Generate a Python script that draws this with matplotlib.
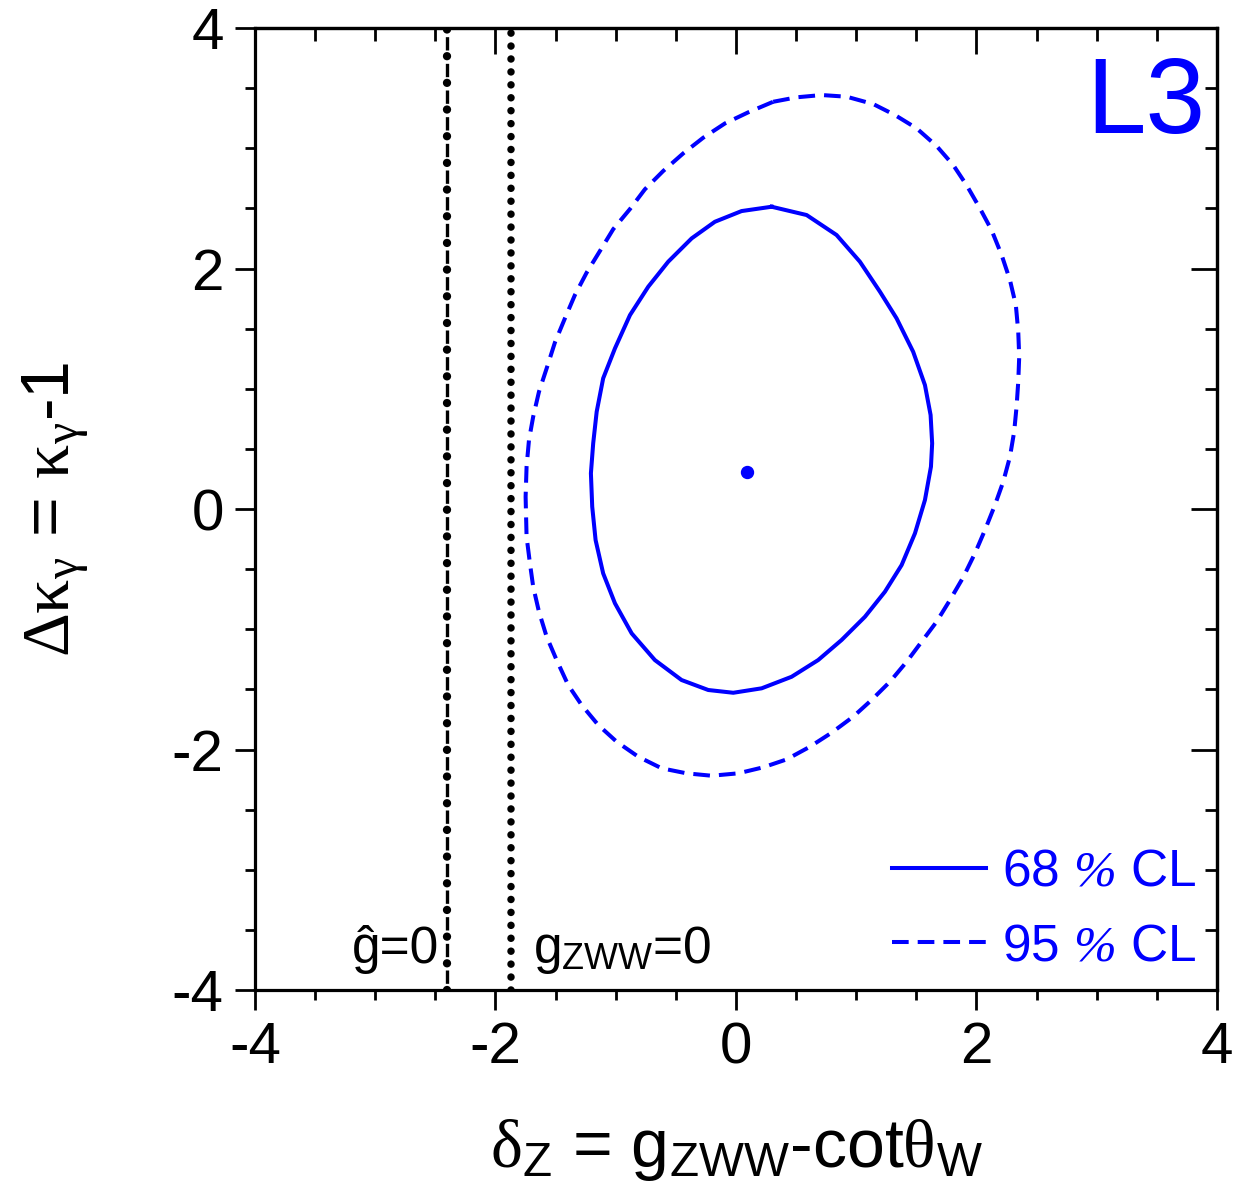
import numpy as np
import matplotlib
matplotlib.use("Agg")
import matplotlib.pyplot as plt
from matplotlib.ticker import MultipleLocator

plt.rcParams['font.family'] = ['Liberation Sans', 'DejaVu Sans']
plt.rcParams['mathtext.fontset'] = 'custom'
plt.rcParams['mathtext.rm'] = 'Liberation Serif'
plt.rcParams['mathtext.it'] = 'Liberation Serif:italic'
plt.rcParams['mathtext.bf'] = 'Liberation Serif:italic'
plt.rcParams['mathtext.sf'] = 'Liberation Sans'
plt.rcParams['axes.unicode_minus'] = False
plt.rcParams['lines.scale_dashes'] = False

# 68% CL contour (delta_Z, delta kappa_gamma)
cl68_x = [0.297, 0.588, 0.837, 1.031, 1.198, 1.336, 1.474, 1.572, 1.619, 1.632,
          1.622, 1.572, 1.489, 1.378, 1.239, 1.073, 0.879, 0.684, 0.463, 0.214,
          -0.022, -0.230, -0.452, -0.674, -0.867, -1.006, -1.104, -1.167, -1.195,
          -1.206, -1.187, -1.158, -1.104, -1.006, -0.881, -0.729, -0.563, -0.368,
          -0.175, 0.047]
cl68_y = [2.514, 2.445, 2.279, 2.057, 1.807, 1.586, 1.308, 1.031, 0.782, 0.546,
          0.352, 0.075, -0.202, -0.466, -0.688, -0.896, -1.089, -1.256, -1.395,
          -1.491, -1.528, -1.505, -1.422, -1.256, -1.034, -0.784, -0.535, -0.258,
          0.019, 0.297, 0.546, 0.809, 1.087, 1.336, 1.613, 1.849, 2.057, 2.251,
          2.389, 2.478]

# 95% CL contour
cl95_x = [0.310, 0.505, 0.713, 0.921, 1.142, 1.322, 1.503, 1.669, 1.807, 1.918,
          2.029, 2.126, 2.210, 2.279, 2.328, 2.348, 2.356, 2.348, 2.334, 2.314,
          2.279, 2.223, 2.154, 2.071, 1.988, 1.890, 1.780, 1.669, 1.544, 1.420,
          1.281, 1.128, 0.975, 0.796, 0.615, 0.422, 0.227, 0.019, -0.202, -0.410,
          -0.618, -0.812, -0.992, -1.145, -1.283, -1.395, -1.491, -1.574, -1.638,
          -1.686, -1.713, -1.741, -1.749, -1.741, -1.721, -1.686, -1.638, -1.574,
          -1.505, -1.422, -1.339, -1.242, -1.131, -1.020, -0.881, -0.757, -0.605,
          -0.438, -0.272, -0.091, 0.102]
cl95_y = [3.387, 3.424, 3.443, 3.429, 3.368, 3.277, 3.166, 3.019, 2.861, 2.694,
          2.501, 2.320, 2.112, 1.904, 1.696, 1.474, 1.267, 1.059, 0.851, 0.643,
          0.435, 0.227, 0.033, -0.175, -0.368, -0.568, -0.757, -0.937, -1.104,
          -1.270, -1.436, -1.588, -1.727, -1.860, -1.977, -2.082, -2.148, -2.198,
          -2.218, -2.198, -2.156, -2.060, -1.935, -1.796, -1.630, -1.464, -1.256,
          -1.062, -0.854, -0.646, -0.452, -0.230, 0.102, 0.352, 0.574, 0.768,
          0.975, 1.170, 1.386, 1.586, 1.780, 1.965, 2.146, 2.328, 2.495, 2.659,
          2.811, 2.958, 3.088, 3.207, 3.299]

best_x, best_y = 0.094, 0.310
ghat_x = -2.403     # g^ = 0
gzww_x = -1.871     # g_ZWW = 0

blue = '#0000ff'

fig = plt.figure(figsize=(12.43, 11.99), dpi=100)
ax = fig.add_axes([0.2051, 0.1743, 0.7739, 0.8023])

ax.plot(cl68_x + cl68_x[:1], cl68_y + cl68_y[:1], color=blue, lw=2.9,
        label=r'68 $\mathbf{\%}$ CL')
ax.plot(cl95_x + cl95_x[:1], cl95_y + cl95_y[:1], color=blue, lw=2.9,
        ls=(0, (12, 6.5)), label=r'95 $\mathbf{\%}$ CL')
ax.plot([best_x], [best_y], 'o', color=blue, ms=8.6)

# vertical limit lines
ax.axvline(ghat_x, color='k', lw=2.4, ls=(-4.8, (9.6, 9.6)))
ax.axvline(ghat_x, color='k', lw=6, ls=(0, (0.01, 19.2)), dash_capstyle='round')
ax.axvline(gzww_x, color='k', lw=5.4, ls=(0, (0.01, 9.3)), dash_capstyle='round')

ax.text(-3.19, -3.776, 'ĝ=0', fontsize=37, ha='left', va='baseline')
ax.text(-1.69, -3.776, r'g$_{\mathsf{ZWW}}$=0', fontsize=37, ha='left', va='baseline')
ax.text(0.988, 0.891, 'L3', color=blue, fontsize=77, ha='right', va='baseline',
        transform=ax.transAxes)

ax.set_xlim(-4, 4)
ax.set_ylim(-4, 4)
ax.xaxis.set_major_locator(MultipleLocator(2))
ax.xaxis.set_minor_locator(MultipleLocator(0.5))
ax.yaxis.set_major_locator(MultipleLocator(2))
ax.yaxis.set_minor_locator(MultipleLocator(0.5))
ax.tick_params(which='both', direction='out', width=2, labelsize=42,
               top=False, right=False)
ax.tick_params(which='major', length=14.5, pad=8)
ax.tick_params(which='minor', length=7)
for s in ax.spines.values():
    s.set_linewidth(2.3)

topax = ax.secondary_xaxis('top')
rightax = ax.secondary_yaxis('right')
for a in (topax, rightax):
    a.set_ticks(np.arange(-4, 5, 2))
    a.set_ticks(np.arange(-4, 4.01, 0.5), minor=True)
    a.tick_params(which='both', direction='in', width=2, labelsize=0,
                  labeltop=False, labelright=False)
    a.tick_params(which='major', length=19)
    a.tick_params(which='minor', length=9)
    a.spines[:].set_linewidth(2.3)
topax.set_xticklabels([])
rightax.set_yticklabels([])

ax.set_xlabel(r'$\mathrm{\delta}_{\mathsf{Z}}$ = g$_{\mathsf{ZWW}}$-cot$\mathrm{\theta}_{\mathsf{W}}$',
              fontsize=49, labelpad=30)
ax.set_ylabel(r'$\mathrm{\Delta\kappa}_{\mathrm{\gamma}}$ = $\mathrm{\kappa}_{\mathrm{\gamma}}$-1',
              fontsize=49, labelpad=58)

ax.legend(loc='lower right', frameon=False, fontsize=37, labelcolor=blue,
          handlelength=1.83, handletextpad=0.3, labelspacing=0.5,
          borderaxespad=0.0, bbox_to_anchor=(1.0, -0.002))

fig.savefig('out.png', dpi=100)
